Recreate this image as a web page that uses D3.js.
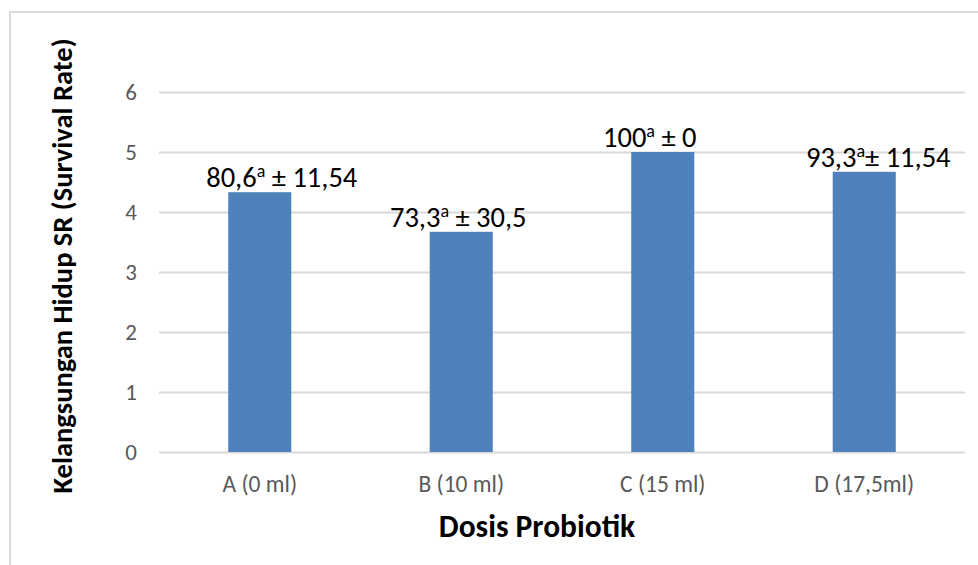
<!DOCTYPE html>
<html>
<head>
<meta charset="utf-8">
<script src="https://cdn.jsdelivr.net/npm/d3@7"></script>
<style>
  body { margin: 0; background: #fff; }
  svg { display: block; font-family: Carlito, Calibri, Lato, sans-serif; }
</style>
</head>
<body>
<svg id="chart" width="978" height="565"></svg>
<script>
// data
const categories = ["A (0 ml)", "B (10 ml)", "C (15 ml)", "D (17,5ml)"];
const values = [4.33, 3.67, 5, 4.67];
const labelMain = ["80,6", "73,3", "100", "93,3"];
const labelRest = [" ± 11,54", " ± 30,5", " ± 0", "± 11,54"];
const yTicks = [0, 1, 2, 3, 4, 5, 6];

const svg = d3.select("#chart"),
	margin = ({top: 92, right: 13, bottom: 113, left: 159}),
	width = 978,
	height = 565;

// hand placed labels in the original
const labelShift = [22, -3, -13, 14];

// outer frame (only top + left visible in the crop)
svg.append("path")
	.attr("d", "M10,565 V12 H978")
	.attr("fill", "none")
	.attr("stroke", "#d9d9d9")
	.attr("stroke-width", 2);

const x = d3.scaleBand()
	.domain(categories)
	.range([margin.left, width - margin.right]);

const y = d3.scaleLinear()
	.domain([0, 6])
	.range([height - margin.bottom, margin.top]);

const barW = x.bandwidth() * 0.313;

// gridlines + y labels
const yAxis = g => g
	.attr("transform", `translate(${margin.left},0)`)
	.call(d3.axisLeft(y).tickValues(yTicks).tickFormat(d3.format("d"))
		.tickSize(-(width - margin.right - margin.left)).tickPadding(22))
	.call(g => g.select(".domain").remove())
	.call(g => g.selectAll(".tick line").attr("stroke", "#d9d9d9").attr("stroke-width", 2))
	.call(g => g.selectAll(".tick text")
		.attr("fill", "#595959")
		.attr("font-size", 23)
		.attr("font-family", "Carlito, Calibri, Lato, sans-serif"));

svg.append("g").call(yAxis);

const xAxis = g => g
	.attr("transform", `translate(0,${height - margin.bottom})`)
	.call(d3.axisBottom(x).tickSize(0).tickPadding(23))
	.call(g => g.select(".domain").remove())
	.call(g => g.selectAll(".tick text")
		.attr("fill", "#595959")
		.attr("font-size", 23.5)
		.attr("font-family", "Carlito, Calibri, Lato, sans-serif"));

svg.append("g").call(xAxis);

svg.append("g")
	.selectAll("rect")
	.data(values)
	.join("rect")
	.attr("x", (d, i) => x(categories[i]) + (x.bandwidth() - barW) / 2)
	.attr("y", d => y(d))
	.attr("width", barW)
	.attr("height", d => y(0) - y(d))
	.attr("fill", "#4f81bd");

const lbl = svg.append("g")
	.selectAll("text")
	.data(values)
	.join("text")
	.attr("x", (d, i) => x(categories[i]) + x.bandwidth() / 2 + labelShift[i])
	.attr("y", d => y(d) - 5)
	.attr("text-anchor", "middle")
	.attr("font-size", 28.5)
	.attr("fill", "#000");

lbl.append("tspan").text((d, i) => labelMain[i]);
lbl.append("tspan").attr("dy", -10).attr("font-size", 18).text("a");
lbl.append("tspan").attr("dy", 10).text((d, i) => labelRest[i]);

svg.append("text")
	.attr("x", 537)
	.attr("y", 537)
	.attr("text-anchor", "middle")
	.attr("font-size", 31.5)
	.attr("font-weight", "bold")
	.text("Dosis Probiotik");

svg.append("text")
	.attr("transform", "translate(72,266) rotate(-90)")
	.attr("text-anchor", "middle")
	.attr("font-size", 28.5)
	.attr("font-weight", "bold")
	.text("Kelangsungan Hidup SR (Survival Rate)");
</script>
</body>
</html>
